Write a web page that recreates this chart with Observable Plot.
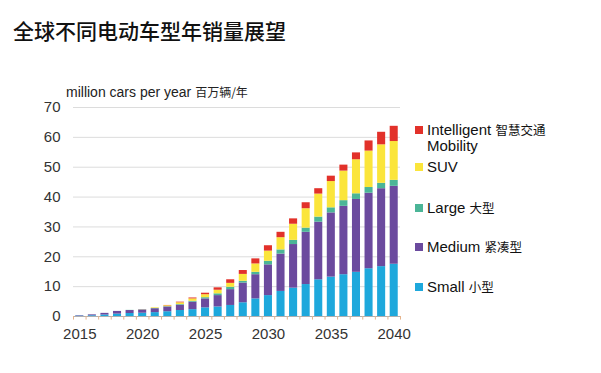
<!DOCTYPE html>
<html>
<head>
<meta charset="utf-8">
<script src="https://cdn.jsdelivr.net/npm/d3@7"></script>
<script src="https://cdn.jsdelivr.net/npm/@observablehq/plot@0.6"></script>
<style>
  html, body { margin: 0; padding: 0; background: #fff; }
  #wrap { position: relative; width: 601px; height: 373px; overflow: hidden; font-family: "Liberation Sans", Arial, sans-serif; }
  #title { height: 60px; box-sizing: border-box; padding: 17px 0 0 13px; font-family: "Noto Sans CJK SC", sans-serif; font-size: 21px; line-height: 26px; color: #111; font-weight: 500; }
  #ylabel { position: absolute; left: 66px; top: 83px; font-size: 14px; color: #222; white-space: nowrap; }
  #ylabel .cjk { font-family: "Noto Sans CJK SC", sans-serif; font-size: 12px; }
  #legend { position: absolute; left: 415px; top: 0; width: 186px; }
  .item { position: absolute; left: 0; white-space: nowrap; font-size: 15px; color: #111; line-height: 16px; }
  .sw { position: absolute; left: 0; width: 8px; height: 8px; }
  .lab { position: absolute; left: 12px; }
  .cjk { font-family: "Noto Sans CJK SC", sans-serif; font-size: 12.5px; }
  #chart { display: block; }
</style>
</head>
<body>
<div id="wrap">
  <div id="title">全球不同电动车型年销量展望</div>
  <div id="chart"></div>
  <div id="ylabel">million cars per year <span class="cjk">百万辆/年</span></div>
  <div id="legend"></div>
</div>
<script>
const years = [2015,2016,2017,2018,2019,2020,2021,2022,2023,2024,2025,2026,2027,2028,2029,2030,2031,2032,2033,2034,2035,2036,2037,2038,2039,2040];
const small  = [0.15,0.25,0.5,0.8,1.0,1.1,1.3,1.6,2.0,2.3,2.9,3.2,3.7,4.6,5.9,7.0,8.4,9.5,10.7,12.3,13.2,14.0,14.8,16.0,16.7,17.5];
const medium = [0.15,0.3,0.55,0.9,1.0,1.1,1.3,1.6,1.8,2.5,3.0,3.8,5.3,6.6,8.1,10.3,12.5,14.6,17.5,19.3,21.5,22.9,24.4,25.3,26.1,26.1];
const large  = [0,0,0,0,0.05,0.05,0.1,0.1,0.2,0.3,0.4,0.6,0.8,0.6,0.8,1.2,1.4,1.4,1.4,1.7,1.7,1.9,1.9,1.9,1.8,2.0];
const suv    = [0,0,0,0,0,0.05,0.2,0.3,0.6,0.8,1.0,1.2,1.3,2.3,2.8,3.4,4.1,5.4,6.5,7.7,8.8,9.9,11.4,12.2,12.9,13.0];
const intelligent = [0,0,0,0,0,0,0,0.1,0.2,0.3,0.5,0.8,1.2,1.3,1.7,1.8,1.8,1.8,2.0,1.8,1.8,2.0,2.3,3.4,4.2,5.1];

const seriesNames = ["Small", "Medium", "Large", "SUV", "Intelligent Mobility"];
const seriesColors = ["#1ea8dc", "#6b4a9e", "#4bb597", "#fbe53b", "#e2312a"];
const seriesValues = [small, medium, large, suv, intelligent];

const yTicks = [0, 10, 20, 30, 40, 50, 60, 70];
const xTickLabels = [2015, 2020, 2025, 2030, 2035, 2040];

const table = [];
seriesNames.forEach((name, si) => {
  years.forEach((yr, i) => table.push({year: yr, type: name, value: seriesValues[si][i]}));
});

const W = 601, H = 313;
const mL = 73, mR = 201;
const step = (W - mL - mR) / years.length;

const chart = Plot.plot({
  width: W,
  height: H,
  marginTop: 47,
  marginBottom: 57,
  marginLeft: mL,
  marginRight: mR,
  style: {fontFamily: "'Liberation Sans', Arial, sans-serif", fontSize: "15px", color: "#333", background: "transparent"},
  x: {type: "band", domain: years, paddingInner: 0.36, paddingOuter: 0.18, round: false, axis: null, label: null},
  y: {domain: [0, 70], axis: null, label: null},
  color: {domain: seriesNames, range: seriesColors},
  marks: [
    Plot.gridY(yTicks, {stroke: "#dcdcdc", strokeOpacity: 1}),
    Plot.axisY(yTicks, {tickSize: 0, tickPadding: 13, fontSize: 15, fill: "#333", label: null}),
    Plot.barY(table, Plot.stackY({x: "year", y: "value", fill: "type", order: seriesNames})),
    Plot.ruleY([0], {stroke: "#b0b0b0"}),
    Plot.ruleX(years, {x: d => d, dx: -step / 2, y1: 0, y2: -1.2, stroke: "#e6b48c"}),
    Plot.ruleX([years[years.length - 1]], {x: d => d, dx: step / 2, y1: 0, y2: -1.2, stroke: "#e6b48c"}),
    Plot.axisX(xTickLabels, {tickSize: 0, tickPadding: 12, fontSize: 15, fill: "#333", label: null, tickFormat: d => String(d)})
  ]
});
document.getElementById("chart").appendChild(chart);

// legend (top to bottom)
const legendItems = [
  {color: seriesColors[4], lines: [["Intelligent ", "智慧交通"], ["Mobility", ""]], top: 122},
  {color: seriesColors[3], lines: [["SUV", ""]], top: 159},
  {color: seriesColors[2], lines: [["Large ", "大型"]], top: 200},
  {color: seriesColors[1], lines: [["Medium ", "紧凑型"]], top: 239},
  {color: seriesColors[0], lines: [["Small ", "小型"]], top: 279}
];
const legend = document.getElementById("legend");
legendItems.forEach(it => {
  const div = document.createElement("div");
  div.className = "item";
  div.style.top = it.top + "px";
  const sw = document.createElement("div");
  sw.className = "sw";
  sw.style.background = it.color;
  sw.style.top = "4px";
  div.appendChild(sw);
  const lab = document.createElement("div");
  lab.className = "lab";
  lab.innerHTML = it.lines.map(([en, zh]) => en + (zh ? `<span class="cjk">${zh}</span>` : "")).join("<br>");
  div.appendChild(lab);
  legend.appendChild(div);
});
</script>
</body>
</html>
